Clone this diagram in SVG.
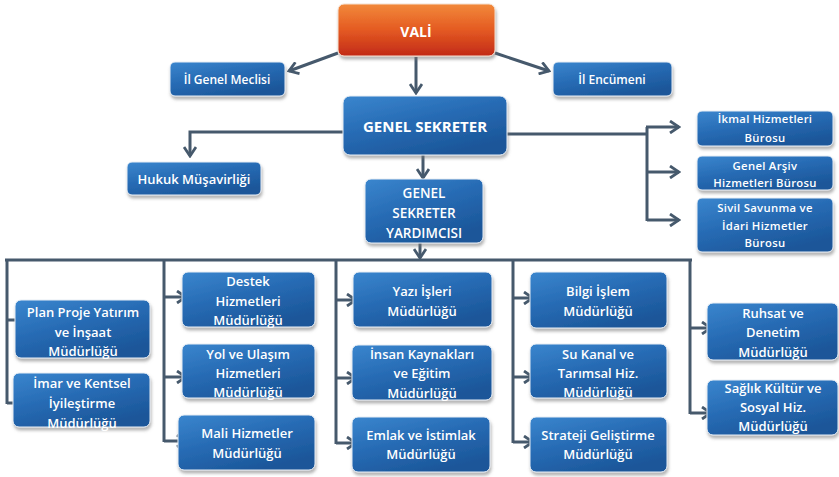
<svg xmlns="http://www.w3.org/2000/svg" width="839" height="477" viewBox="0 0 839 477">
<defs>
<linearGradient id="blue" x1="0" y1="0" x2="0.6" y2="1">
<stop offset="0" stop-color="#3A86CE"/>
<stop offset="0.5" stop-color="#276BB4"/>
<stop offset="1" stop-color="#1B5699"/>
</linearGradient>
<linearGradient id="orange" x1="0" y1="0" x2="0" y2="1">
<stop offset="0" stop-color="#F2893A"/>
<stop offset="0.5" stop-color="#E45A22"/>
<stop offset="1" stop-color="#C22A17"/>
</linearGradient>
<filter id="sh" x="-10%" y="-10%" width="120%" height="140%">
<feDropShadow dx="1" dy="3" stdDeviation="1.5" flood-color="#777" flood-opacity="0.55"/>
</filter>
<marker id="ah" viewBox="0 0 12 14" refX="10" refY="7" markerWidth="12" markerHeight="14" markerUnits="userSpaceOnUse" orient="auto">
<path d="M1,1 L10,7 L1,13" fill="none" stroke="#46596C" stroke-width="2.8" stroke-linejoin="miter"/>
</marker>
</defs>
<style>
.box{fill:url(#blue);filter:url(#sh);stroke:#E8EEF5;stroke-width:1}
.t{font-family:"Open Sans","Lato","DejaVu Sans",sans-serif;font-weight:600;font-size:13px;fill:#FFFFFF;text-anchor:middle;dominant-baseline:central}
.m{font-size:12px}
.s{font-size:11.3px;letter-spacing:0.3px}
.c{fill:none;stroke:#46596C;stroke-width:3}
.a{fill:none;stroke:#46596C;stroke-width:3;marker-end:url(#ah)}
</style>
<rect width="839" height="477" fill="#FFFFFF"/>
<g id="connectors">
<path class="a" d="M338,53 L289,71"/>
<path class="a" d="M495,53 L549,71"/>
<path class="a" d="M416,57 L416,93"/>
<path class="a" d="M343,132 H190 V156"/>
<path class="c" d="M507,134 H647"/>
<path class="c" d="M647,127 V221"/>
<path class="a" d="M646,127 H679"/>
<path class="a" d="M647,172 H679"/>
<path class="a" d="M647,220 H679"/>
<path class="a" d="M423,155 L423,178"/>
<path class="a" d="M420,243 L420,258"/>
<path class="c" d="M5,260 H692"/>
<path class="c" d="M7,259 V404"/>
<path class="c" d="M164,259 V442"/>
<path class="c" d="M336,259 V444"/>
<path class="c" d="M513,259 V443"/>
<path class="c" d="M690,259 V414"/>
<path class="a" d="M7,320 H28"/>
<path class="a" d="M7,403 H28"/>
<path class="a" d="M164,297 H186"/>
<path class="a" d="M164,377 H186"/>
<path class="a" d="M164,441 H186"/>
<path class="a" d="M336,300 H356"/>
<path class="a" d="M336,378 H356"/>
<path class="a" d="M336,443 H356"/>
<path class="a" d="M513,298 H533"/>
<path class="a" d="M513,377 H533"/>
<path class="a" d="M513,442 H533"/>
<path class="a" d="M690,328 H711"/>
<path class="a" d="M690,413 H711"/>
</g>
<g id="vali">
<rect x="338" y="4" width="157" height="52" rx="6" fill="url(#orange)" filter="url(#sh)" stroke="#F5E0D0" stroke-width="1"/>
<text class="t" x="416" y="31" style="font-size:14px;font-weight:700">VALİ</text>
</g>
<g id="il-genel-meclisi">
<rect class="box" x="170" y="62" width="115" height="34" rx="5"/>
<text class="t m" x="227" y="79">İl Genel Meclisi</text>
</g>
<g id="il-encumeni">
<rect class="box" x="553" y="62" width="119" height="34" rx="5"/>
<text class="t m" x="612" y="79">İl Encümeni</text>
</g>
<g id="genel-sekreter">
<rect class="box" x="343" y="96" width="164" height="59" rx="7"/>
<text class="t" x="425" y="126" style="font-size:15px;font-weight:700">GENEL SEKRETER</text>
</g>
<g id="hukuk">
<rect class="box" x="127" y="162" width="134" height="33" rx="5"/>
<text class="t" x="194" y="179">Hukuk Müşavirliği</text>
</g>
<g id="gsy">
<rect class="box" x="365" y="179" width="118" height="64" rx="6"/>
<text class="t" x="424" y="193" style="font-size:13.5px">GENEL</text>
<text class="t" x="424" y="213" style="font-size:13.5px">SEKRETER</text>
<text class="t" x="424" y="233" style="font-size:13.5px">YARDIMCISI</text>
</g>
<g id="ikmal">
<rect class="box" x="697" y="111" width="136" height="35" rx="5"/>
<text class="t s" x="765" y="118">İkmal Hizmetleri</text>
<text class="t s" x="765" y="137">Bürosu</text>
</g>
<g id="arsiv">
<rect class="box" x="697" y="156" width="136" height="34" rx="5"/>
<text class="t s" x="765" y="165">Genel Arşiv</text>
<text class="t s" x="765" y="182">Hizmetleri Bürosu</text>
</g>
<g id="sivil">
<rect class="box" x="697" y="198" width="136" height="54" rx="5"/>
<text class="t s" x="765" y="207">Sivil Savunma ve</text>
<text class="t s" x="765" y="225">İdari Hizmetler</text>
<text class="t s" x="765" y="242">Bürosu</text>
</g>
<g id="plan-proje">
<rect class="box" x="15" y="300" width="135" height="58" rx="6"/>
<text class="t" x="83" y="312">Plan Proje Yatırım</text>
<text class="t" x="83" y="332">ve İnşaat</text>
<text class="t" x="83" y="351">Müdürlüğü</text>
</g>
<g id="imar">
<rect class="box" x="13" y="373" width="137" height="54" rx="6"/>
<text class="t" x="82" y="383">İmar ve Kentsel</text>
<text class="t" x="82" y="403">İyileştirme</text>
<text class="t" x="82" y="423">Müdürlüğü</text>
</g>
<g id="destek">
<rect class="box" x="182" y="272" width="133" height="55" rx="6"/>
<text class="t" x="248" y="281">Destek</text>
<text class="t" x="248" y="301">Hizmetleri</text>
<text class="t" x="248" y="320">Müdürlüğü</text>
</g>
<g id="yol">
<rect class="box" x="182" y="344" width="133" height="54" rx="6"/>
<text class="t" x="248" y="354">Yol ve Ulaşım</text>
<text class="t" x="248" y="373">Hizmetleri</text>
<text class="t" x="248" y="392">Müdürlüğü</text>
</g>
<g id="mali">
<rect class="box" x="178" y="415" width="137" height="55" rx="6"/>
<text class="t" x="247" y="433">Mali Hizmetler</text>
<text class="t" x="247" y="453">Müdürlüğü</text>
</g>
<g id="yazi">
<rect class="box" x="353" y="272" width="139" height="55" rx="6"/>
<text class="t" x="422" y="291">Yazı İşleri</text>
<text class="t" x="422" y="311">Müdürlüğü</text>
</g>
<g id="insan">
<rect class="box" x="352" y="345" width="140" height="55" rx="6"/>
<text class="t" x="422" y="354">İnsan Kaynakları</text>
<text class="t" x="422" y="373">ve Eğitim</text>
<text class="t" x="422" y="393">Müdürlüğü</text>
</g>
<g id="emlak">
<rect class="box" x="352" y="417" width="138" height="55" rx="6"/>
<text class="t" x="421" y="435">Emlak ve İstimlak</text>
<text class="t" x="421" y="454">Müdürlüğü</text>
</g>
<g id="bilgi">
<rect class="box" x="530" y="272" width="137" height="56" rx="6"/>
<text class="t" x="598" y="291">Bilgi İşlem</text>
<text class="t" x="598" y="311">Müdürlüğü</text>
</g>
<g id="su-kanal">
<rect class="box" x="530" y="344" width="137" height="54" rx="6"/>
<text class="t" x="598" y="354">Su Kanal ve</text>
<text class="t" x="598" y="373">Tarımsal Hiz.</text>
<text class="t" x="598" y="392">Müdürlüğü</text>
</g>
<g id="strateji">
<rect class="box" x="530" y="417" width="137" height="55" rx="6"/>
<text class="t" x="598" y="435">Strateji Geliştirme</text>
<text class="t" x="598" y="454">Müdürlüğü</text>
</g>
<g id="ruhsat">
<rect class="box" x="707" y="303" width="131" height="57" rx="6"/>
<text class="t" x="773" y="313">Ruhsat ve</text>
<text class="t" x="773" y="332">Denetim</text>
<text class="t" x="773" y="352">Müdürlüğü</text>
</g>
<g id="saglik">
<rect class="box" x="707" y="380" width="131" height="55" rx="6"/>
<text class="t" x="773" y="388">Sağlık Kültür ve</text>
<text class="t" x="773" y="407">Sosyal Hiz.</text>
<text class="t" x="773" y="426">Müdürlüğü</text>
</g>
</svg>
